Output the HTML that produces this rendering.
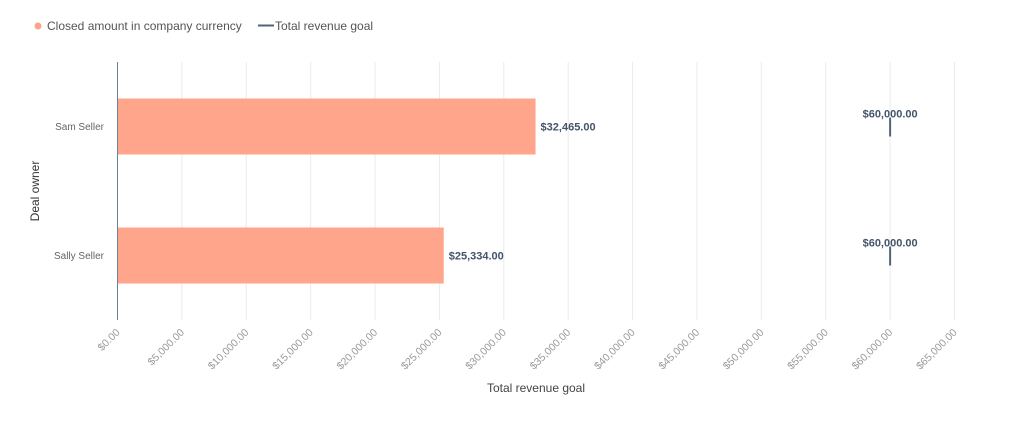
<!DOCTYPE html>
<html><head><meta charset="utf-8"><style>
body{margin:0;background:#fff;font-family:"Liberation Sans",sans-serif;}
svg text{font-family:"Liberation Sans",sans-serif;}
</style></head><body>
<svg width="1024" height="425" xmlns="http://www.w3.org/2000/svg">
<g>
 <circle cx="38" cy="26" r="3.5" fill="#f8a58c"/>
 <text x="47" y="30" font-size="12" fill="#555">Closed amount in company currency</text>
 <line x1="258" y1="25.5" x2="274" y2="25.5" stroke="#4f6478" stroke-width="2"/>
 <text x="275" y="30" font-size="12" fill="#555">Total revenue goal</text>
</g>
<g id="grid"></g>
<g id="bars"></g>
<g id="xticks"></g>
<line x1="117.5" y1="62" x2="117.5" y2="320" stroke="#6b8296" stroke-width="1"/>
<text x="536" y="392" font-size="12" fill="#444" text-anchor="middle">Total revenue goal</text>
<text transform="translate(39,191) rotate(-90)" font-size="12" fill="#333" text-anchor="middle">Deal owner</text>
</svg>
<script>
const categories = ["Sam Seller","Sally Seller"];
const closedValues = [32465, 25334];
const goalValues = [60000, 60000];
const tickValues = [0,5000,10000,15000,20000,25000,30000,35000,40000,45000,50000,55000,60000,65000];
const NS="http://www.w3.org/2000/svg";
const x0=117.5, x1=954.5, xMax=65000, yTop=62, yBottom=320;
const xs=v=>x0+(v/xMax)*(x1-x0);
const band=(yBottom-yTop)/categories.length;
const fmt=v=>"$"+v.toLocaleString("en-US",{minimumFractionDigits:2,maximumFractionDigits:2});
function mk(tag,attrs,parent){const e=document.createElementNS(NS,tag);for(const k in attrs)e.setAttribute(k,attrs[k]);parent.appendChild(e);return e;}
const grid=document.getElementById("grid"),bars=document.getElementById("bars"),xt=document.getElementById("xticks");
tickValues.forEach(v=>{
 if(v>0){const l=mk("line",{x1:xs(v),y1:yTop,x2:xs(v),y2:yBottom,stroke:"#ebebeb","stroke-width":1},grid);
 
 }
 const t=mk("text",{transform:`translate(${xs(v)+3},${yBottom+13}) rotate(-45)`,"font-size":10.5,fill:"#999","text-anchor":"end"},xt);
 t.textContent=fmt(v);
 
 
});
categories.forEach((c,i)=>{
 const cy=yTop+band*(i+0.5);
 const lab=mk("text",{x:104,y:cy+3.5,"font-size":10,fill:"#666","text-anchor":"end"},bars);
 lab.textContent=c;
 
 
 const r=mk("rect",{x:x0+0.5,y:cy-28,width:xs(closedValues[i])-x0-0.5,height:56,fill:"#fea58c"},bars);
 
 
 const vl=mk("text",{x:xs(closedValues[i])+5,y:cy+4,"font-size":11,"font-weight":"bold",fill:"#44546a"},bars);
 vl.textContent=fmt(closedValues[i]);
 
 
 const g=mk("line",{x1:xs(goalValues[i]),y1:cy-9,x2:xs(goalValues[i]),y2:cy+10,stroke:"#52657a","stroke-width":2},bars);
 
 
 const gl=mk("text",{x:xs(goalValues[i]),y:cy-9,"font-size":11,"font-weight":"bold",fill:"#44546a","text-anchor":"middle"},bars);
 gl.textContent=fmt(goalValues[i]);
 
 
});
</script>
</body></html>
